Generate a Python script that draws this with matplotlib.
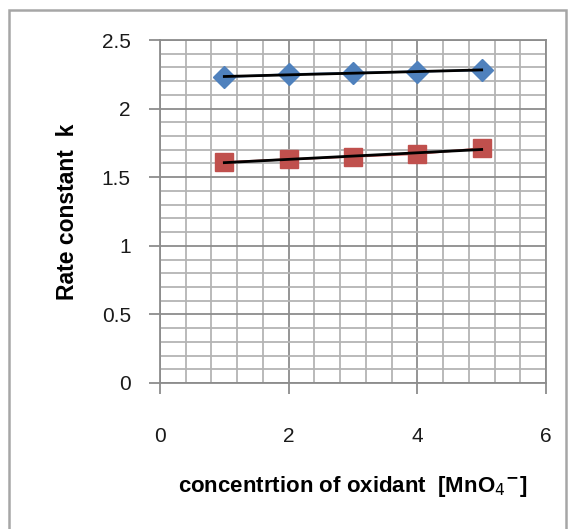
#!/usr/bin/env python3

import numpy as np
import matplotlib.pyplot as plt
from matplotlib.ticker import MultipleLocator
from matplotlib.patches import Rectangle

conc = [1, 2, 3, 4, 5]
k_blue = [2.23, 2.25, 2.26, 2.27, 2.28]
k_red = [1.61, 1.63, 1.65, 1.67, 1.71]

xticks = [0, 2, 4, 6]
yticks = [0, 0.5, 1, 1.5, 2, 2.5]
ytick_labels = ["0", "0.5", "1", "1.5", "2", "2.5"]

plt.rcParams['font.family'] = ['Liberation Sans', 'DejaVu Sans']

fig = plt.figure(figsize=(5.74, 5.29), dpi=100)
# outer chart border
fig.patches.append(Rectangle((9 / 574, -0.01), (566 - 9) / 574, (529 - 10) / 529 + 0.01,
                             transform=fig.transFigure, fill=False,
                             edgecolor="#a6a6a6", linewidth=1.8))

ax = fig.add_axes([160 / 574, (529 - 383) / 529, (546 - 160) / 574, (383 - 40) / 529])

ax.set_xlim(0, 6)
ax.set_ylim(0, 2.5)
ax.xaxis.set_major_locator(MultipleLocator(2))
ax.xaxis.set_minor_locator(MultipleLocator(0.4))
ax.yaxis.set_major_locator(MultipleLocator(0.5))
ax.yaxis.set_minor_locator(MultipleLocator(0.1))
ax.set_yticks(yticks, ytick_labels)
ax.set_xticks(xticks)

ax.grid(which="major", color="#8c8c8c", linewidth=1.3)
ax.grid(which="minor", color="#b4b4b4", linewidth=1.3)
ax.set_axisbelow(True)
for s in ax.spines.values():
    s.set_color("#8c8c8c")
    s.set_linewidth(1.3)

ax.tick_params(which="major", length=8, width=1.3, color="#8c8c8c",
               labelsize=15, labelcolor="#1a1a1a")
ax.tick_params(axis="x", which="major", pad=24)
ax.tick_params(axis="y", which="major", pad=13)
ax.tick_params(which="minor", length=0)

# series
ax.plot(conc, k_blue, color="#4F81BD", marker="D", markersize=11.5, linewidth=1.5, zorder=3)
ax.plot(conc, k_red, color="#C0504D", marker="s", markersize=13, linewidth=1.5, zorder=3)

# linear trendlines
xs = np.array(conc, dtype=float)
for ys in (k_blue, k_red):
    p = np.polyfit(xs, ys, 1)
    ax.plot(xs, np.polyval(p, xs), color="black", linewidth=2, zorder=4)

ax.set_xlabel(r"concentrtion of oxidant  [MnO$_4$$^{\mathbf{-}}$]", fontsize=16,
              fontweight="bold", labelpad=20)
ax.set_ylabel("Rate constant  k", fontsize=16.5, fontweight="bold", labelpad=16)

fig.savefig("out.png", dpi=100)
